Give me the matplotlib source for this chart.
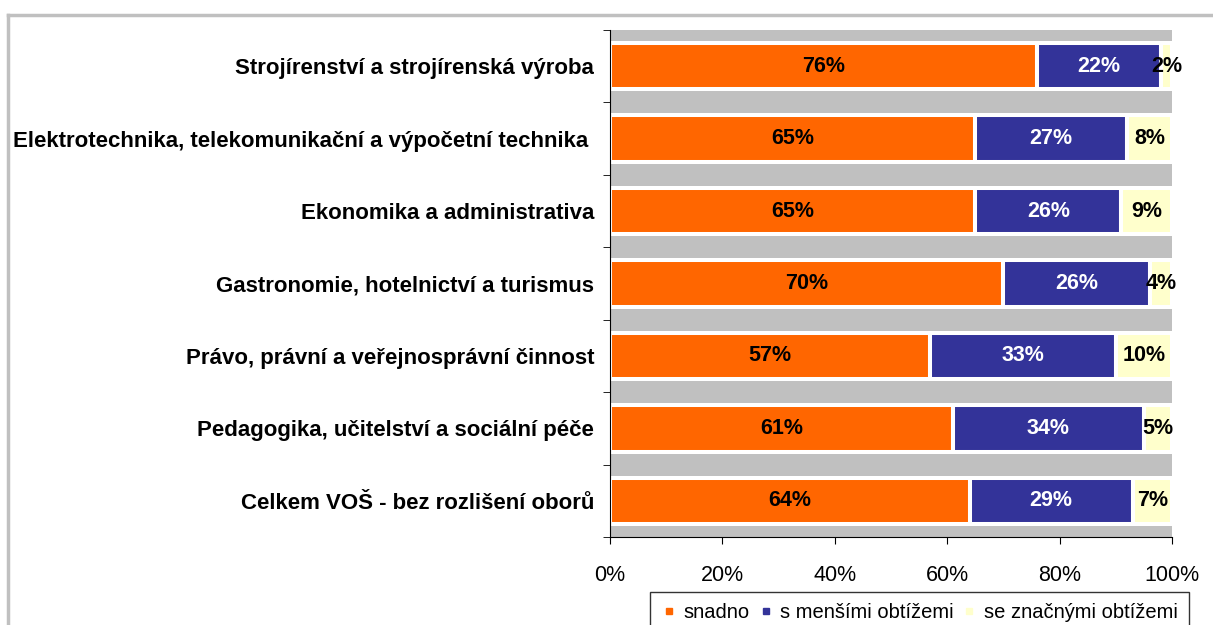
import numpy as np
import matplotlib.pyplot as plt
from matplotlib.lines import Line2D

# data
obory = [
    "Strojírenství a strojírenská výroba",
    "Elektrotechnika, telekomunikační a výpočetní technika ",
    "Ekonomika a administrativa",
    "Gastronomie, hotelnictví a turismus",
    "Právo, právní a veřejnosprávní činnost",
    "Pedagogika, učitelství a sociální péče",
    "Celkem VOŠ - bez rozlišení oborů",
]
snadno = [76, 65, 65, 70, 57, 61, 64]
mensi = [22, 27, 26, 26, 33, 34, 29]
znacne = [2, 8, 9, 4, 10, 5, 7]
serie_nazvy = ["snadno", "s menšími obtížemi", "se značnými obtížemi"]

barvy = ["#FF6600", "#333399", "#FFFFCC"]
barvy_textu = ["black", "white", "black"]

plt.rcParams['font.family'] = ['Liberation Sans', 'DejaVu Sans']

fig = plt.figure(figsize=(12.13, 6.25), dpi=100)
ax = fig.add_axes([0.5029, 0.1408, 0.4633, 0.8112])
ax.set_facecolor("#C0C0C0")

y = np.arange(len(obory))
left = np.zeros(len(obory))
for hodnoty, barva, tbarva in zip([snadno, mensi, znacne], barvy, barvy_textu):
    hodnoty = np.array(hodnoty, dtype=float)
    bars = ax.barh(y, hodnoty, left=left, height=0.64, color=barva,
                   edgecolor="white", linewidth=2.9)
    for b, v in zip(bars, hodnoty):
        ax.text(b.get_x() + b.get_width() / 2, b.get_y() + b.get_height() / 2,
                f"{v:.0f}%", ha="center", va="center", color=tbarva,
                fontsize=15.5, fontweight="bold")
    left += hodnoty

ax.set_xlim(0, 100)
ax.set_ylim(len(obory) - 0.5, -0.5)
ax.set_xticks(np.arange(0, 101, 20))
ax.set_xticklabels([f"{t}%" for t in range(0, 101, 20)], fontsize=15.5)
ax.set_yticks(y)
ax.set_yticklabels(obory, fontsize=16, fontweight="bold")
ax.set_yticks(np.arange(-0.5, len(obory), 1), minor=True)
ax.tick_params(axis="y", which="major", length=0, pad=11.5)
ax.tick_params(axis="y", which="minor", length=5, direction="out")
ax.tick_params(axis="x", length=5, direction="out", pad=15)
ax.spines["top"].set_visible(False)
ax.spines["right"].set_visible(False)

# legenda
handles = [Line2D([], [], marker="s", color=c, linestyle="none", markersize=5)
           for c in barvy]
leg = fig.legend(handles, serie_nazvy, loc="upper left",
                 bbox_to_anchor=(0.536, 0.053), ncol=3, fontsize=14.5,
                 frameon=True, fancybox=False, edgecolor="black",
                 handletextpad=0.3, columnspacing=0.4, borderpad=0.55,
                 handlelength=0.8, borderaxespad=0)
leg.get_frame().set_linewidth(1)

# rámeček grafu
fig.add_artist(Line2D([0.007, 1.0], [0.976, 0.976], color="#C0C0C0", lw=2.5))
fig.add_artist(Line2D([0.007, 0.007], [0.0, 0.976], color="#C0C0C0", lw=2.5))

fig.savefig("out.png", dpi=100)
